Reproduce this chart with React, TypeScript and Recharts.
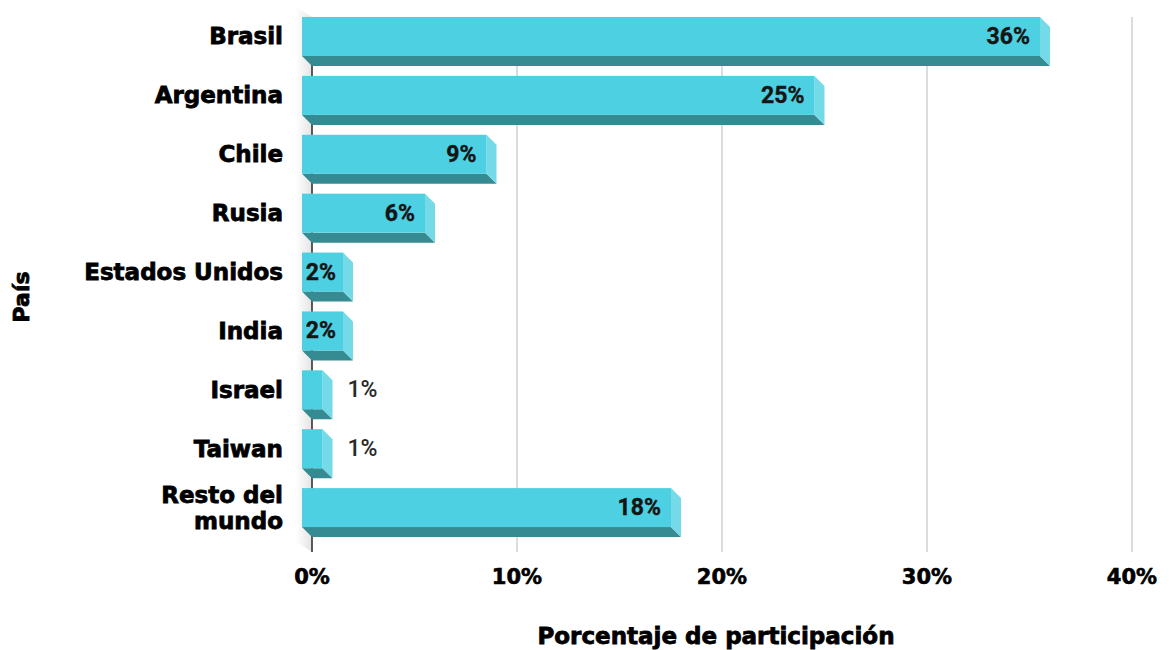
import React from 'react';
import { BarChart, Bar, XAxis, YAxis, CartesianGrid, LabelList } from 'recharts';

const categories = ['Brasil', 'Argentina', 'Chile', 'Rusia', 'Estados Unidos', 'India', 'Israel', 'Taiwan', 'Resto del mundo'];
const shares = [36, 25, 9, 6, 2, 2, 1, 1, 18];
const xTicks = [0, 10, 20, 30, 40];
const xTitle = 'Porcentaje de participación';
const yTitle = 'País';

const data = categories.map((c, i) => ({ pais: c, valor: shares[i] }));

const FACE = '#4DD0E1';
const BOTTOM = '#368A92';
const SIDE = '#74DAE7';
const DEPTH = 10;
const LABEL_FONT = '"DejaVu Sans", sans-serif';
const VALUE_FONT = 'Roboto, "Noto Sans", sans-serif';

const Bar3D = (props: any) => {
  const { x, y, width, height } = props;
  if (width == null || height == null) return null;
  const d = DEPTH;
  const bottom = `${x - d},${y + height - d} ${x + width - d},${y + height - d} ${x + width},${y + height} ${x},${y + height}`;
  const side = `${x + width - d},${y - d} ${x + width},${y} ${x + width},${y + height} ${x + width - d},${y + height - d}`;
  return (
    <g>
      <polygon points={bottom} fill={BOTTOM} />
      <polygon points={side} fill={SIDE} />
      <rect x={x - d} y={y - d} width={width} height={height} fill={FACE} />
    </g>
  );
};

const gridLine = (props: any) => {
  const { x1, y1, x2, y2, index } = props;
  const k = `g-${index}-${x1}`;
  if (index === 0) {
    const wall = `${x1 - 16},${y1 - 10} ${x1},${y1} ${x1},${y2 + 5} ${x1 - 16},${y2 - 5}`;
    return (
      <g key={k}>
        <defs>
          <linearGradient id="wallGrad" x1="0" y1="0" x2="1" y2="0">
            <stop offset="0%" stopColor="#ffffff" />
            <stop offset="100%" stopColor="#e4e4e4" />
          </linearGradient>
        </defs>
        <polygon points={wall} fill="url(#wallGrad)" />
        <line x1={x1} y1={y1} x2={x2} y2={y2 + 5} stroke="#333" strokeWidth={1.6} />
      </g>
    );
  }
  return <line key={k} x1={x1} y1={y1} x2={x2} y2={y2 + 5} stroke="#d0d0d0" strokeWidth={1.5} />;
};

const YTick = (props: any) => {
  const { y, payload } = props;
  const v: string = payload.value;
  const lines = v === 'Resto del mundo' ? ['Resto del', 'mundo'] : [v];
  const cy = y - DEPTH;
  const lh = 26;
  const start = cy - ((lines.length - 1) * lh) / 2;
  return (
    <text
      textAnchor="end"
      fontFamily={LABEL_FONT}
      fontWeight="bold"
      fontSize={23}
      fill="#000"
      stroke="#000"
      strokeWidth={0.8}
    >
      {lines.map((l, i) => (
        <tspan key={i} x={275} y={start + i * lh} dominantBaseline="central">
          {l}
        </tspan>
      ))}
    </text>
  );
};

const XTick = (props: any) => {
  const { x, payload } = props;
  return (
    <text
      x={x}
      y={569}
      textAnchor="middle"
      dominantBaseline="central"
      fontFamily={LABEL_FONT}
      fontWeight="bold"
      fontSize={21}
      fill="#000"
      stroke="#000"
      strokeWidth={0.6}
    >
      {`${payload.value}%`}
    </text>
  );
};

const ValueLabel = (props: any) => {
  const { x, y, width, height, value } = props;
  const txt = `${value}%`;
  const cy = y + height / 2 - DEPTH;
  if (value >= 2) {
    const tw = (txt.length - 1) * 13.5 + 17.5;
    const faceLeft = x - DEPTH;
    const faceRight = x + width - DEPTH;
    const endX = Math.max(faceRight - 10, faceLeft + 3 + tw);
    return (
      <text
        x={endX}
        y={cy}
        textAnchor="end"
        dominantBaseline="central"
        fontFamily={VALUE_FONT}
        fontWeight="bold"
        fontSize={23}
        fill="#151515"
        stroke="#151515"
        strokeWidth={0.4}
      >
        {txt}
      </text>
    );
  }
  return (
    <text
      x={x + width + 15}
      y={cy}
      textAnchor="start"
      dominantBaseline="central"
      fontFamily={VALUE_FONT}
      fontWeight={500}
      fontSize={23}
      fill="#2a2a2a"
    >
      {txt}
    </text>
  );
};

export default function App() {
  return (
    <div style={{ width: 1153, height: 642 }}>
      <BarChart
        width={1153}
        height={642}
        data={data}
        layout="vertical"
        margin={{ top: 9, right: 29, bottom: 43, left: 0 }}
        barSize={39}
      >
        <CartesianGrid horizontal={false} vertical={gridLine} />
        <XAxis
          type="number"
          domain={[0, 40]}
          ticks={xTicks}
          height={60}
          axisLine={false}
          tickLine={false}
          tick={<XTick />}
          interval={0}
          label={{
            content: () => (
              <text
                x={708}
                y={628}
                textAnchor="middle"
                dominantBaseline="central"
                fontFamily={LABEL_FONT}
                fontWeight="bold"
                fontSize={23}
                fill="#000"
                stroke="#000"
                strokeWidth={0.8}
              >
                {xTitle}
              </text>
            ),
          }}
        />
        <YAxis
          type="category"
          dataKey="pais"
          width={304}
          axisLine={false}
          tickLine={false}
          tick={<YTick />}
          interval={0}
          label={{
            content: () => (
              <text
                x={13}
                y={289}
                transform="rotate(-90 13 289)"
                textAnchor="middle"
                dominantBaseline="central"
                fontFamily={LABEL_FONT}
                fontWeight="bold"
                fontSize={22}
                fill="#000"
                stroke="#000"
                strokeWidth={0.8}
              >
                {yTitle}
              </text>
            ),
          }}
        />
        <Bar dataKey="valor" shape={<Bar3D />} isAnimationActive={false}>
          <LabelList dataKey="valor" content={<ValueLabel />} />
        </Bar>
      </BarChart>
    </div>
  );
}
